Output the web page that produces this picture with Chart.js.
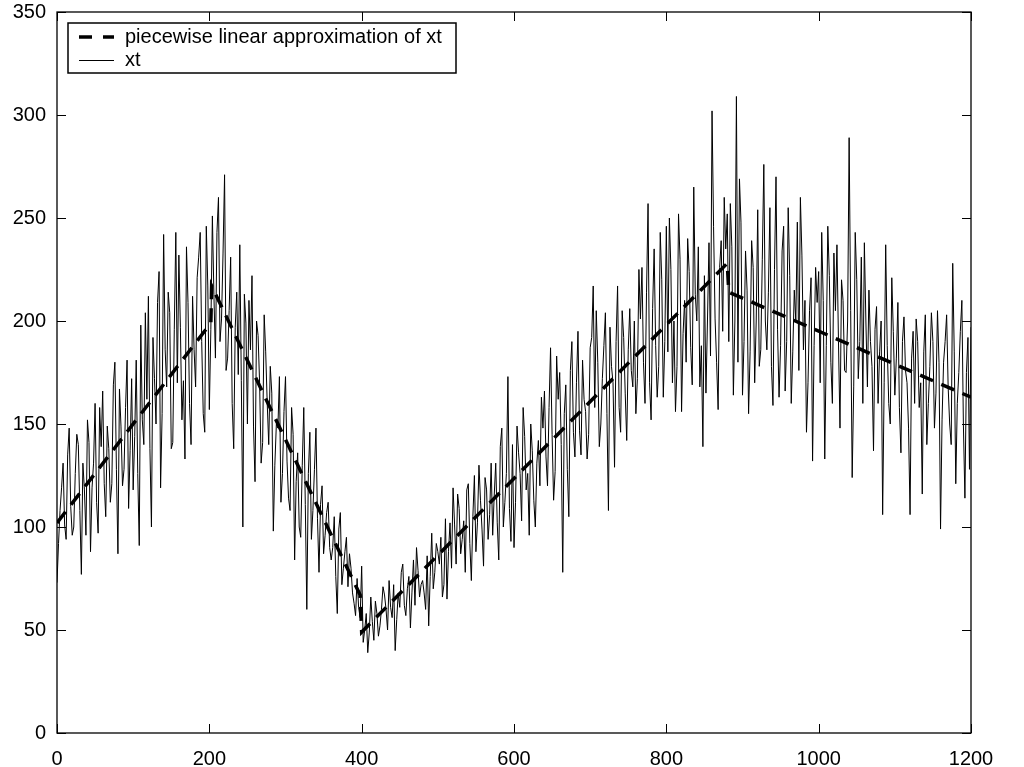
<!DOCTYPE html>
<html>
<head>
<meta charset="utf-8">
<script src="https://cdn.jsdelivr.net/npm/chart.js@4"></script>
<style>
  html, body { margin: 0; padding: 0; background: #fff; }
  #wrap { width: 1024px; height: 767px; }
</style>
</head>
<body>
<div id="wrap"><canvas id="xtChart" width="1024" height="767"></canvas></div>
<script>
// piecewise linear approximation (breakpoints)
const pwX = [0, 202, 203, 398, 400, 880, 882, 1200];
const pwY = [102, 199, 217, 67, 49, 228, 214, 163];

// xt at x = 0, 4, 8, ... 1200
const xtStep = 4;
const xtValues = [
  73, 108, 131, 94, 148, 96, 126, 140, 77, 118,
  152, 88, 131, 112, 158, 166, 105, 138, 121, 180,
  87, 149, 128, 181, 137, 118, 181, 91, 152, 204,
  212, 100, 172, 209, 119, 242, 168, 204, 141, 243,
  232, 152, 133, 209, 140, 186, 221, 243, 155, 246,
  157, 251, 182, 260, 201, 271, 182, 231, 138, 214,
  237, 100, 199, 210, 222, 122, 193, 131, 203, 160,
  178, 98, 150, 173, 126, 173, 114, 158, 84, 136,
  95, 158, 60, 146, 108, 148, 78, 120, 96, 112,
  84, 105, 58, 107, 80, 95, 87, 68, 57, 61,
  81, 50, 39, 66, 45, 58, 52, 71, 60, 74,
  56, 40, 68, 78, 62, 70, 51, 84, 90, 66,
  74, 60, 52, 97, 78, 88, 95, 72, 65, 102,
  119, 82, 109, 94, 78, 121, 74, 125, 102, 113,
  81, 118, 106, 96, 131, 84, 148, 112, 173, 93,
  90, 149, 126, 158, 118, 96, 137, 100, 142, 163,
  166, 120, 187, 113, 183, 175, 78, 169, 105, 190,
  134, 195, 135, 162, 133, 187, 217, 205, 139, 172,
  204, 108, 178, 129, 217, 146, 192, 142, 206, 168,
  155, 225, 226, 160, 257, 152, 235, 163, 243, 163,
  246, 250, 170, 156, 252, 156, 210, 240, 187, 265,
  200, 168, 139, 165, 238, 302, 201, 157, 239, 260,
  252, 257, 164, 309, 269, 164, 234, 155, 239, 170,
  254, 186, 276, 186, 255, 159, 270, 163, 234, 166,
  255, 160, 215, 248, 260, 186, 146, 205, 132, 226,
  224, 243, 133, 246, 180, 233, 237, 148, 210, 175,
  289, 124, 243, 172, 231, 238, 168, 190, 137, 207,
  185, 106, 237, 160, 221, 164, 209, 136, 202, 170,
  106, 195, 201, 158, 116, 203, 160, 204, 148, 205,
  99, 180, 203, 150, 228, 121, 175, 210, 114, 192,
  197
];

// xt at the in-between samples x = 2, 6, 10, ... 1198
const xtMidValues = [
  92, 119, 101, 135, 110, 100, 145, 108, 131, 96,
  141, 119, 160, 97, 139, 121, 149, 112, 169, 128,
  167, 120, 158, 109, 172, 144, 126, 198, 140, 162,
  138, 192, 150, 224, 155, 186, 214, 138, 196, 170,
  197, 171, 236, 160, 212, 168, 231, 190, 146, 217,
  196, 213, 243, 190, 233, 176, 205, 160, 197, 174,
  171, 213, 150, 186, 149, 200, 170, 141, 185, 140,
  165, 130, 148, 112, 156, 132, 108, 145, 122, 100,
  130, 111, 126, 94, 128, 104, 111, 87, 107, 90,
  90, 76, 99, 72, 88, 71, 80, 63, 75, 56,
  44, 58, 49, 54, 64, 47, 60, 67, 50, 61,
  72, 55, 61, 82, 57, 76, 68, 62, 79, 72,
  68, 86, 76, 70, 92, 82, 66, 104, 88, 80,
  101, 116, 87, 103, 118, 92, 105, 88, 130, 99,
  124, 94, 131, 115, 102, 139, 100, 126, 109, 140,
  112, 136, 103, 144, 126, 150, 113, 131, 120, 148,
  134, 158, 145, 127, 162, 140, 155, 128, 176, 146,
  170, 147, 181, 156, 145, 192, 158, 180, 150, 188,
  155, 197, 170, 190, 158, 205, 165, 186, 176, 200,
  172, 201, 180, 214, 170, 206, 188, 178, 220, 190,
  185, 225, 200, 178, 230, 194, 180, 224, 169, 213,
  236, 188, 222, 200, 183, 246, 180, 226, 195, 235,
  190, 236, 200, 180, 248, 190, 215, 185, 226, 200,
  178, 230, 200, 214, 178, 225, 196, 188, 246, 190,
  222, 185, 200, 176, 232, 210, 170, 221, 188, 209,
  170, 210, 188, 222, 160, 205, 190, 220, 176, 200,
  205, 168, 220, 190, 160, 200, 215, 178, 196, 160,
  200, 170, 188, 150, 195, 182, 158, 190, 176, 148,
  182, 160, 190, 170, 185, 140, 178, 190, 165, 180,
  152, 190, 168, 140, 185, 160, 195, 150, 175, 128
];

const xTicks = [0, 200, 400, 600, 800, 1000, 1200];
const yTicks = [0, 50, 100, 150, 200, 250, 300, 350];

const fontFamily = '"Liberation Sans", Arial, Helvetica, sans-serif';

// merge both sample sets into one ordered series
const xtPoints = [];
xtValues.forEach((v, i) => {
  xtPoints.push({ x: i * xtStep, y: v });
  if (i < xtMidValues.length) xtPoints.push({ x: i * xtStep + xtStep / 2, y: xtMidValues[i] });
});

// inward ticks on all four sides + closed frame
const frameTicks = {
  id: 'frameTicks',
  afterDraw(chart) {
    const { ctx, chartArea: a, scales } = chart;
    const len = 9;
    ctx.save();
    ctx.strokeStyle = '#000';
    ctx.lineWidth = 1;
    ctx.beginPath();
    xTicks.forEach(v => {
      const px = Math.round(scales.x.getPixelForValue(v)) + 0.5;
      ctx.moveTo(px, a.bottom); ctx.lineTo(px, a.bottom - len);
      ctx.moveTo(px, a.top); ctx.lineTo(px, a.top + len);
    });
    yTicks.forEach(v => {
      const py = Math.round(scales.y.getPixelForValue(v)) + 0.5;
      ctx.moveTo(a.left, py); ctx.lineTo(a.left + len, py);
      ctx.moveTo(a.right, py); ctx.lineTo(a.right - len, py);
    });
    ctx.stroke();
    ctx.lineWidth = 1.3;
    ctx.strokeRect(a.left, a.top, a.right - a.left, a.bottom - a.top);
    ctx.restore();
  }
};

// boxed legend in the top-left corner of the plot
const boxLegend = {
  id: 'boxLegend',
  afterDraw(chart) {
    const { ctx, chartArea: a } = chart;
    const ds = chart.data.datasets;
    const x0 = a.left + 11, y0 = a.top + 11, w = 388, h = 50;
    ctx.save();
    ctx.fillStyle = '#fff';
    ctx.fillRect(x0, y0, w, h);
    ctx.strokeStyle = '#000';
    ctx.lineWidth = 1.5;
    ctx.strokeRect(x0, y0, w, h);

    // dashed sample
    ctx.lineWidth = 3.5;
    ctx.setLineDash([13, 11]);
    ctx.beginPath();
    ctx.moveTo(x0 + 11, y0 + 14); ctx.lineTo(x0 + 46, y0 + 14);
    ctx.stroke();
    // solid sample
    ctx.setLineDash([]);
    ctx.lineWidth = 1;
    ctx.beginPath();
    ctx.moveTo(x0 + 11, y0 + 37.5); ctx.lineTo(x0 + 46, y0 + 37.5);
    ctx.stroke();

    ctx.fillStyle = '#000';
    ctx.font = '20px ' + fontFamily;
    ctx.textBaseline = 'middle';
    ctx.textAlign = 'left';
    ctx.fillText(ds[0].label, x0 + 57, y0 + 14);
    ctx.fillText(ds[1].label, x0 + 57, y0 + 37);
    ctx.restore();
  }
};

const ctx = document.getElementById('xtChart').getContext('2d');
new Chart(ctx, {
  type: 'line',
  data: {
    datasets: [
      {
        label: 'piecewise linear approximation of xt',
        data: pwX.map((x, i) => ({ x: x, y: pwY[i] })),
        borderColor: '#000',
        borderWidth: 3.5,
        borderDash: [14, 9],
        pointRadius: 0,
        tension: 0,
        fill: false
      },
      {
        label: 'xt',
        data: xtPoints,
        borderColor: '#000',
        borderWidth: 1,
        pointRadius: 0,
        tension: 0,
        fill: false
      }
    ]
  },
  options: {
    responsive: false,
    animation: false,
    devicePixelRatio: 1,
    layout: { padding: { top: 12, right: 53, left: 0, bottom: 0 } },
    plugins: {
      legend: { display: false },
      tooltip: { enabled: false }
    },
    scales: {
      x: {
        type: 'linear',
        min: 0,
        max: 1200,
        afterBuildTicks: s => { s.ticks = xTicks.map(v => ({ value: v })); },
        afterFit: s => { s.height = 34; s.paddingLeft = 0; s.paddingRight = 0; },
        grid: { display: false, drawTicks: false },
        border: { display: false },
        ticks: {
          color: '#000', padding: 14, maxRotation: 0,
          font: { family: fontFamily, size: 20 },
          callback: v => String(v)
        }
      },
      y: {
        min: 0,
        max: 350,
        afterBuildTicks: s => { s.ticks = yTicks.map(v => ({ value: v })); },
        afterFit: s => { s.width = 57; s.paddingTop = 0; s.paddingBottom = 0; },
        grid: { display: false, drawTicks: false },
        border: { display: false },
        ticks: {
          color: '#000', padding: 11,
          font: { family: fontFamily, size: 20 },
          callback: v => String(v)
        }
      }
    }
  },
  plugins: [frameTicks, boxLegend]
});
</script>
</body>
</html>
